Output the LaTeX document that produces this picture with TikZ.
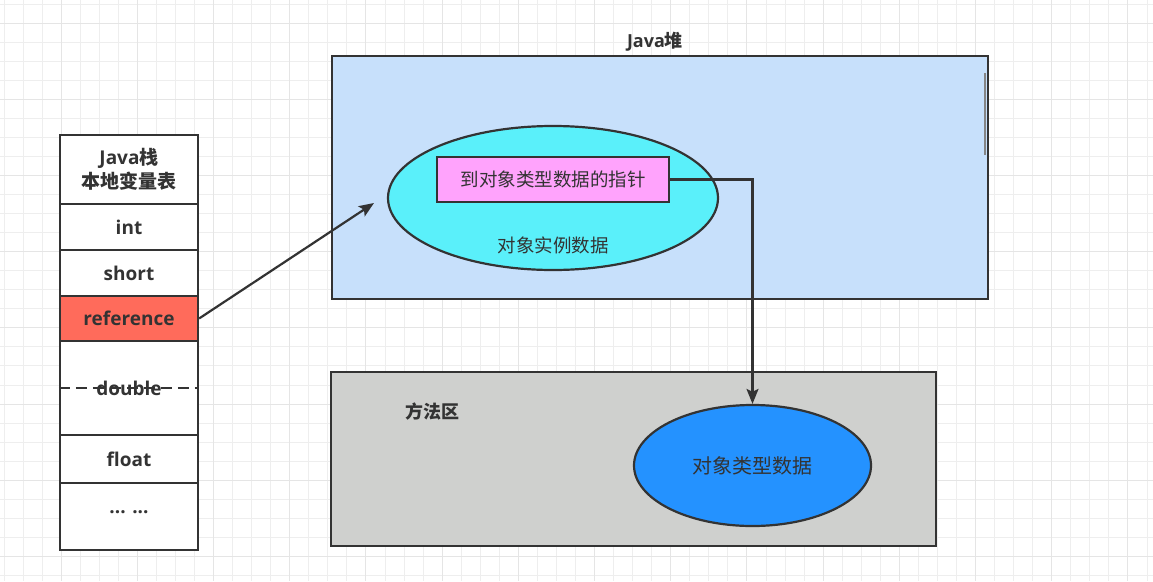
\documentclass[tikz,border=0pt]{standalone}
\usepackage{fontspec}
\setmainfont{Open Sans}
\newfontfamily\cjk{Noto Sans CJK SC}
\usetikzlibrary{arrows.meta,shapes.geometric}
\definecolor{lineC}{RGB}{51,51,51}
\definecolor{txtC}{RGB}{51,51,51}
\definecolor{heapC}{RGB}{199,224,251}
\definecolor{cyanC}{RGB}{90,240,250}
\definecolor{pinkC}{RGB}{255,163,252}
\definecolor{blueC}{RGB}{36,146,255}
\definecolor{grayC}{RGB}{207,208,206}
\definecolor{refC}{RGB}{255,107,91}
\definecolor{minorC}{RGB}{238,238,238}
\definecolor{majorC}{RGB}{229,229,229}
\begin{document}
\begin{tikzpicture}[x=1pt,y=-1pt,
  box/.style={draw=lineC, line width=2.2pt, inner sep=0pt, text=txtC},
  row/.style={box, fill=white, minimum width=138pt, font=\fontsize{19}{24}\selectfont\bfseries},
  lbl/.style={inner sep=0pt, text=txtC},
  conn/.style={draw=lineC, line width=2.2pt, -{Stealth[length=15pt,width=12pt,inset=3pt]}}]
\useasboundingbox (0,0) rectangle (1153,581);
\fill[white] (0,0) rectangle (1153,581);
% grid
\foreach \i in {0,...,60} {
  \draw[minorC, line width=1pt] ({4+19.05*\i},0) -- ++(0,581);
}
\foreach \i in {0,...,30} {
  \draw[minorC, line width=1pt] (0,{4+19.05*\i}) -- ++(1153,0);
}
\foreach \i in {0,...,14} {
  \draw[majorC, line width=1pt] ({61+76.2*\i},0) -- ++(0,581);
}
\foreach \i in {0,...,7} {
  \draw[majorC, line width=1pt] (0,{23+76.2*\i}) -- ++(1153,0);
}
% Java heap
\node[box, fill=heapC, minimum width=656pt, minimum height=243pt] (heap) at (660,177.5) {};
\draw[lineC!60, line width=1.5pt] (985,73) -- (985,155);
\node[lbl, font=\fontsize{18}{22}\selectfont\bfseries] (heaplbl) at (655,42) {Java{\cjk\bfseries 堆}};
\node[box, ellipse, fill=cyanC, minimum width=330pt, minimum height=144pt] (inst) at (553,198) {};
\node[lbl, font=\fontsize{18.5}{22}\selectfont\cjk] (instlbl) at (553,245) {对象实例数据};
\node[box, fill=pinkC, minimum width=232pt, minimum height=45pt, font=\fontsize{18.5}{22}\selectfont\cjk] (ptr) at (553,179.5) {到对象类型数据的指针};
% method area
\node[box, fill=grayC, minimum width=605pt, minimum height=174pt] (method) at (633.5,459) {};
\node[lbl, font=\fontsize{18}{22}\selectfont\cjk\bfseries] (methodlbl) at (432.5,412) {方法区};
\node[box, ellipse, fill=blueC, minimum width=237pt, minimum height=121pt, font=\fontsize{20}{24}\selectfont\cjk] (cls) at (752.5,465.5) {对象类型数据};
\draw[conn] (ptr.east) -| (cls.north);
% stack
\node[row, minimum height=69pt, align=center] (hdr) at (129,169.5) {Java{\cjk\bfseries 栈}\\{\cjk\bfseries 本地变量表}};
\node[row, minimum height=46pt] (int) at (129,227) {int};
\node[row, minimum height=46pt] (short) at (129,273) {short};
\node[row, fill=refC, minimum height=45pt] (ref) at (129,318.5) {reference};
\node[row, minimum height=94pt] (dbl) at (129,388) {double};
\draw[lineC, line width=2pt, dash pattern=on 11pt off 6pt] (dbl.west) -- (dbl.east);
\node[row, minimum height=48pt] (flt) at (129,459) {float};
\node[row, minimum height=67pt] (dots) at (129,516.5) {\raisebox{8pt}{... ...}};
\coordinate (tip) at (374,203);
\draw[conn] (ref.east) -- (tip);
\end{tikzpicture}
\end{document}
